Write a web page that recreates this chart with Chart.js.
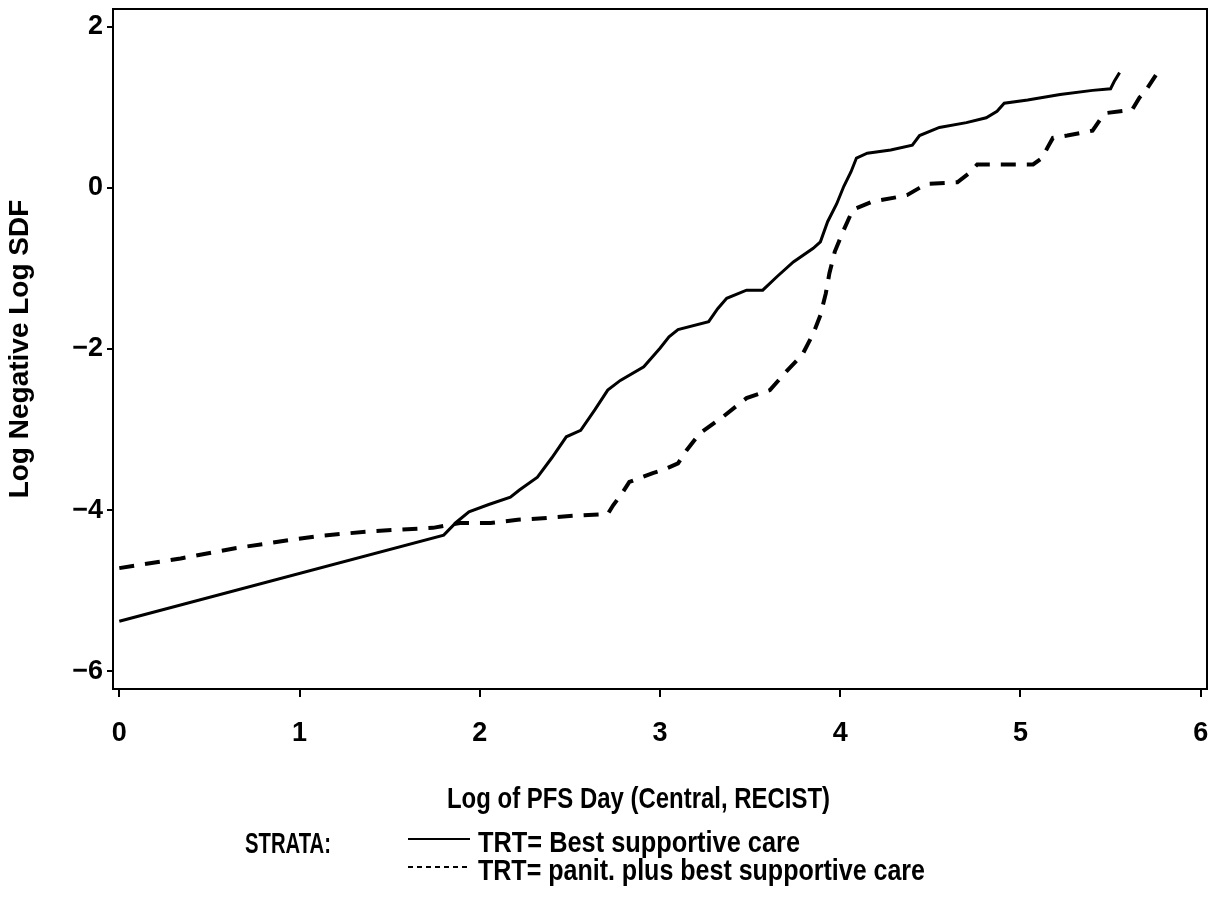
<!DOCTYPE html>
<html>
<head>
<meta charset="utf-8">
<script src="https://cdn.jsdelivr.net/npm/chart.js@4.4.1/dist/chart.umd.min.js"></script>
<style>
  html, body { margin: 0; padding: 0; background: #fff; }
  #wrap { width: 1211px; height: 909px; position: relative; }
</style>
</head>
<body>
<div id="wrap"><canvas id="c"></canvas></div>
<script>
// ---- data ----
const bscX = [0, 1.80, 1.87, 1.94, 2.05, 2.17, 2.22, 2.32, 2.40, 2.48, 2.56, 2.64, 2.71, 2.78, 2.91, 3.00, 3.05, 3.10, 3.27, 3.32, 3.37, 3.48, 3.57, 3.65, 3.74, 3.85, 3.89, 3.93, 3.98, 4.02, 4.06, 4.09, 4.15, 4.28, 4.40, 4.44, 4.55, 4.70, 4.81, 4.87, 4.91, 5.04, 5.22, 5.40, 5.50, 5.52, 5.55];
const bscY = [-5.38, -4.31, -4.15, -4.02, -3.93, -3.84, -3.75, -3.59, -3.35, -3.09, -3.01, -2.75, -2.51, -2.39, -2.22, -1.99, -1.85, -1.76, -1.66, -1.50, -1.37, -1.27, -1.27, -1.10, -0.92, -0.75, -0.67, -0.42, -0.20, 0.02, 0.20, 0.37, 0.43, 0.47, 0.53, 0.65, 0.75, 0.81, 0.87, 0.95, 1.05, 1.09, 1.16, 1.21, 1.23, 1.32, 1.43];

const panX = [0, 0.34, 0.65, 0.95, 1.11, 1.41, 1.74, 1.89, 2.06, 2.21, 2.35, 2.52, 2.71, 2.74, 2.79, 2.83, 2.96, 3.02, 3.10, 3.15, 3.22, 3.35, 3.48, 3.61, 3.70, 3.79, 3.85, 3.89, 3.92, 3.94, 3.97, 4.02, 4.07, 4.18, 4.33, 4.37, 4.44, 4.48, 4.65, 4.72, 4.76, 4.87, 5.07, 5.12, 5.15, 5.18, 5.26, 5.40, 5.44, 5.48, 5.62, 5.66, 5.69, 5.76];
const panY = [-4.72, -4.60, -4.47, -4.37, -4.32, -4.26, -4.22, -4.16, -4.16, -4.12, -4.10, -4.07, -4.05, -3.94, -3.79, -3.65, -3.54, -3.50, -3.42, -3.25, -3.05, -2.84, -2.61, -2.51, -2.28, -2.07, -1.81, -1.58, -1.31, -1.06, -0.79, -0.52, -0.27, -0.17, -0.11, -0.09, 0.00, 0.05, 0.07, 0.19, 0.29, 0.29, 0.29, 0.37, 0.50, 0.62, 0.65, 0.71, 0.84, 0.93, 0.97, 1.12, 1.19, 1.43];

const xTickValues = [0, 1, 2, 3, 4, 5, 6];
const yTickValues = [-6, -4, -2, 0, 2];

const xTitle = 'Log of PFS Day (Central, RECIST)';
const yTitle = 'Log Negative Log SDF';
const legendHeader = 'STRATA:';
const seriesNames = ['TRT= Best supportive care', 'TRT= panit. plus best supportive care'];

// ---- helpers ----
const toPoints = (xs, ys) => xs.map((x, i) => ({ x: x, y: ys[i] }));
const FONT = '"Liberation Sans", Arial, Helvetica, sans-serif';

const framePlugin = {
  id: 'frame',
  afterDatasetsDraw(chart) {
    const { ctx, chartArea: a } = chart;
    ctx.save();
    ctx.strokeStyle = '#000';
    ctx.lineWidth = 2;
    ctx.beginPath();
    ctx.moveTo(a.left, a.top);
    ctx.lineTo(a.right, a.top);
    ctx.lineTo(a.right, a.bottom);
    ctx.stroke();
    ctx.restore();
  }
};

const textPlugin = {
  id: 'bottomText',
  afterDraw(chart) {
    const ctx = chart.ctx;
    ctx.save();
    ctx.fillStyle = '#000';
    ctx.textBaseline = 'alphabetic';
    ctx.textAlign = 'left';
    ctx.font = 'bold 30px ' + FONT;
    ctx.fillText(xTitle, 447, 808, 383);
    ctx.font = 'bold 29px ' + FONT;
    ctx.fillText(legendHeader, 245, 853, 86);
    ctx.fillText(seriesNames[0], 478, 852, 322);
    ctx.fillText(seriesNames[1], 478, 880, 447);
    // legend line samples
    ctx.strokeStyle = '#000';
    ctx.lineWidth = 2;
    ctx.beginPath();
    ctx.moveTo(408, 839); ctx.lineTo(470, 839);
    ctx.stroke();
    ctx.setLineDash([5, 4]);
    ctx.beginPath();
    ctx.moveTo(408, 867); ctx.lineTo(470, 867);
    ctx.stroke();
    ctx.restore();
  }
};

new Chart(document.getElementById('c'), {
  type: 'line',
  data: {
    datasets: [
      {
        label: seriesNames[0],
        data: toPoints(bscX, bscY),
        borderColor: '#000',
        borderWidth: 3,
        pointRadius: 0,
        tension: 0,
        fill: false
      },
      {
        label: seriesNames[1],
        data: toPoints(panX, panY),
        borderColor: '#000',
        borderWidth: 4,
        borderDash: [15, 11],
        pointRadius: 0,
        tension: 0,
        fill: false
      }
    ]
  },
  options: {
    responsive: true,
    maintainAspectRatio: false,
    animation: false,
    layout: { padding: { top: 9, right: 4, left: 0, bottom: 0 } },
    plugins: {
      legend: { display: false },
      tooltip: { enabled: false },
      title: { display: false }
    },
    scales: {
      x: {
        type: 'linear',
        min: -0.035,
        max: 6.035,
        afterBuildTicks: s => { s.ticks = xTickValues.map(v => ({ value: v })); },
        afterFit: s => { s.height = 220; s.paddingLeft = 0; s.paddingRight = 0; },
        ticks: {
          color: '#000',
          font: { family: FONT, size: 27, weight: 'bold' },
          padding: 20,
          maxRotation: 0,
          autoSkip: false
        },
        grid: { drawOnChartArea: false, drawTicks: true, tickLength: 8, color: '#000', lineWidth: 2 },
        border: { display: true, color: '#000', width: 2 }
      },
      y: {
        type: 'linear',
        min: -6.22,
        max: 2.22,
        afterBuildTicks: s => { s.ticks = yTickValues.map(v => ({ value: v })); },
        afterFit: s => { s.width = 113; s.paddingTop = 0; s.paddingBottom = 0; },
        ticks: {
          color: '#000',
          font: { family: FONT, size: 27, weight: 'bold' },
          padding: 4,
          autoSkip: false,
          callback: v => (v < 0 ? '\u2212' + Math.abs(v) : String(v))
        },
        grid: { drawOnChartArea: false, drawTicks: true, tickLength: 6, color: '#000', lineWidth: 2 },
        border: { display: true, color: '#000', width: 2 },
        title: {
          display: true,
          text: yTitle,
          color: '#000',
          font: { family: FONT, size: 28, weight: 'bold' },
          padding: { top: 3, bottom: 0 }
        }
      }
    }
  },
  plugins: [framePlugin, textPlugin]
});
</script>
</body>
</html>
